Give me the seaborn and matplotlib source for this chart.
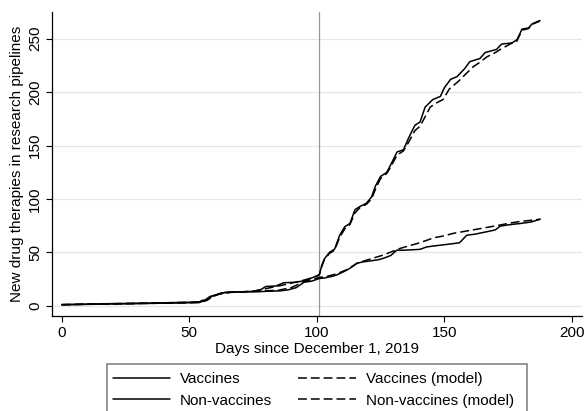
import numpy as np
import pandas as pd
import matplotlib
matplotlib.use("Agg")
import matplotlib.pyplot as plt
import seaborn as sns
from matplotlib.lines import Line2D
from matplotlib.patches import Rectangle

sns.set_style("white")
plt.rcParams['font.family'] = ['Liberation Sans', 'DejaVu Sans']
plt.rcParams['text.color'] = 'black'
plt.rcParams['axes.labelcolor'] = 'black'
plt.rcParams['xtick.color'] = 'black'
plt.rcParams['ytick.color'] = 'black'

# ---- data ----
nv_days = [0, 10, 20, 30, 40, 50, 54, 55, 57, 59, 61, 63, 66, 70, 75, 78, 80, 84, 87, 92, 96, 99,
           101, 102, 103, 105, 107, 109, 111, 113, 115, 117, 119.5, 121.5, 123, 125, 127.5, 129,
           131.5, 134, 136, 138.5, 140.5, 142.5, 145.5, 148.5, 150, 152.5, 155, 158, 160, 164,
           166, 170.5, 172.5, 176.5, 178.5, 180.5, 183, 184.5, 187.5]
nv_vals = [1, 1.5, 2, 2.3, 2.7, 3.3, 3.6, 5, 5.5, 9, 10.5, 12, 12.8, 13, 13.5, 15, 18, 18.5, 21.5,
           22, 24, 27, 29, 38, 44, 50, 53, 66, 74, 77, 90, 93, 96, 102, 112, 121, 125, 132,
           144, 146, 157, 169, 172, 186, 193, 196, 204, 212, 214.5, 222, 228.5, 231.5,
           237, 240, 245, 246, 249, 259, 260, 264, 267]

nvm_days = [0, 50, 54, 56, 59, 62, 66, 75, 80, 88, 95, 100, 101, 102, 103, 105, 107, 109, 111, 113,
            115, 117, 119.5, 121.5, 123, 125, 127.5, 129, 131.5, 134, 136, 138.5, 140.5, 142.5,
            144.5, 147, 149.5, 152, 155.5, 158, 161.5, 164, 166.7, 170, 172, 175.8, 178.5, 180.5,
            183, 184.5, 187.5]
nvm_vals = [1, 3.2, 3.4, 4.5, 8.5, 11.5, 12.5, 13.5, 16, 20, 24, 27.5, 29, 37, 43, 49, 52, 64, 72, 76,
            87, 92, 95, 100, 109, 119, 124, 130, 141, 145, 153, 164, 168, 177,
            186, 190, 193, 203, 210, 216, 224, 228, 233, 237, 240, 245, 248, 258,
            259.5, 263.5, 266.5]

v_days = [0, 10, 20, 30, 40, 50, 54, 56, 58, 61, 64, 70, 76, 80, 86, 89, 92, 95, 98, 101, 103, 106.5,
          108, 110.5, 113, 115.7, 118, 121, 124, 126, 129, 131.4, 134, 136.6, 140.5, 143, 146,
          149.6, 153, 156, 158.8, 162, 166.7, 170, 172, 176, 179.8, 184, 187.6]
v_vals = [1, 1.3, 1.7, 2, 2.4, 2.8, 3, 5, 8.5, 10.5, 12.5, 13, 13, 13.5, 14, 15, 17, 22, 23, 25.5, 26,
          27.8, 29, 31.8, 35, 39.7, 41, 42, 43, 44.3, 47, 52, 52, 52.3, 52.8, 55, 56,
          57, 58, 59, 66, 67, 69.3, 71, 74.6, 76, 77, 78.4, 81]

vm_days = [0, 50, 54, 57, 59, 62, 66, 75, 85, 90, 95, 101, 104, 108, 112, 116, 120, 126, 132.7, 136,
           140.5, 145.7, 150, 153.6, 160, 166, 171.9, 176, 180, 184, 187.6]
vm_vals = [1, 2.8, 3.2, 5, 8.5, 11, 12.5, 13.5, 14.5, 17, 22.5, 26.5, 27.5, 30, 34, 40, 43, 47.4, 53.7, 56,
           59, 63.5, 65.5, 67.8, 70.5, 73, 75.6, 77.5, 79, 80, 81]

y_ticks = [0, 50, 100, 150, 200, 250]
x_ticks = [0, 50, 100, 150, 200]
event_day = 101

series_names = ["Vaccines", "Non-vaccines", "Vaccines (model)", "Non-vaccines (model)"]

df = pd.concat([
    pd.DataFrame({"day": v_days, "value": v_vals, "series": "Vaccines"}),
    pd.DataFrame({"day": nv_days, "value": nv_vals, "series": "Non-vaccines"}),
    pd.DataFrame({"day": vm_days, "value": vm_vals, "series": "Vaccines (model)"}),
    pd.DataFrame({"day": nvm_days, "value": nvm_vals, "series": "Non-vaccines (model)"}),
], ignore_index=True)

W, H = 584, 411
fig = plt.figure(figsize=(W / 100, H / 100), dpi=100)
ax = fig.add_axes([52 / W, 1 - 316 / H, (582 - 52) / W, (316 - 12) / H])

for yv in y_ticks:
    ax.axhline(yv, color="#e6e6e6", lw=0.9, zorder=0)
ax.axvline(event_day, color="#999999", lw=0.9, zorder=1)

dash = (0, (5.8, 2.6))
styles = {"Vaccines": "-", "Non-vaccines": "-", "Vaccines (model)": dash, "Non-vaccines (model)": dash}
for name in series_names:
    sub = df[df["series"] == name]
    sns.lineplot(data=sub, x="day", y="value", ax=ax, color="black", lw=1.1,
                 linestyle=styles[name], legend=False, zorder=3)

ax.set_xlim(-3.8, 204)
ax.set_ylim(-9.6, 275)
ax.set_xticks(x_ticks)
ax.set_yticks(y_ticks)
ax.set_xlabel("Days since December 1, 2019", fontsize=11, labelpad=2, color="black")
ax.set_ylabel("New drug therapies in research pipelines", fontsize=11, labelpad=3, color="black")
ax.tick_params(axis="both", direction="out", length=4.5, width=0.8, color="black",
               labelcolor="black", labelsize=11, pad=2.5, bottom=True, left=True)
ax.tick_params(axis="y", labelrotation=90)
for lab in ax.get_yticklabels():
    lab.set_va("center")
for s in ["top", "right"]:
    ax.spines[s].set_visible(False)
for s in ["left", "bottom"]:
    ax.spines[s].set_color("black")
    ax.spines[s].set_linewidth(0.9)

# legend
fig.patches.append(Rectangle((107 / W, 1 - 414 / H), (527 - 107) / W, (414 - 364) / H,
                             transform=fig.transFigure, fill=False, edgecolor="#8c8c8c", lw=1.3))
handles = [Line2D([], [], color="black", lw=1.1, linestyle=styles[n]) for n in series_names]
leg = fig.legend(handles, series_names, loc="upper left", bbox_to_anchor=(113 / W, 1 - 372 / H),
                 ncol=2, frameon=False, fontsize=11, handlelength=3.75, handletextpad=0.65,
                 columnspacing=1.7, labelspacing=0.5, borderpad=0, borderaxespad=0)
for t in leg.get_texts():
    t.set_color("black")

fig.savefig("out.png", dpi=100)
